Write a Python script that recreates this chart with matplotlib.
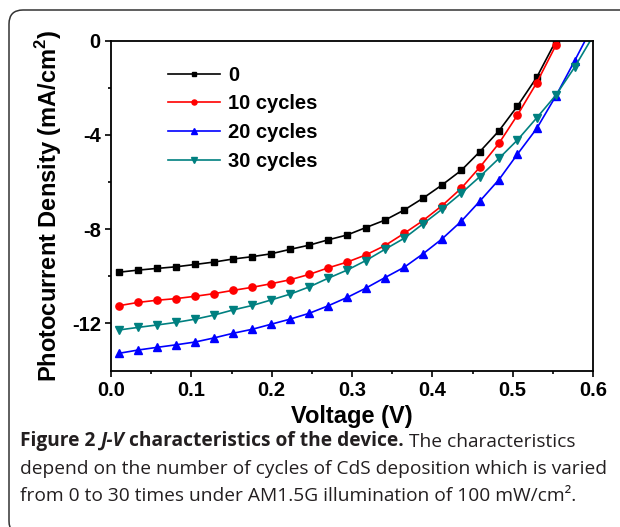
"""J-V curves of the device for different numbers of CdS deposition cycles,
redrawn as a figure panel with its caption underneath."""
import matplotlib

matplotlib.use("Agg")
import matplotlib.pyplot as plt
from matplotlib.patches import FancyBboxPatch

plt.rcParams["font.family"] = ["Liberation Sans", "DejaVu Sans"]
plt.rcParams["axes.unicode_minus"] = False
plt.rcParams["mathtext.fontset"] = "custom"
plt.rcParams["mathtext.rm"] = "Liberation Sans"
plt.rcParams["mathtext.bf"] = "Liberation Sans:bold"

# --- data ----------------------------------------------------------------
voltage = [0.010, 0.034, 0.057, 0.081, 0.105, 0.128, 0.152, 0.176, 0.199, 0.223,
           0.247, 0.270, 0.294, 0.317, 0.341, 0.365, 0.388, 0.412, 0.436, 0.459,
           0.483, 0.506, 0.530, 0.554, 0.577, 0.601]
j_0 = [-9.83, -9.74, -9.67, -9.60, -9.50, -9.40, -9.27, -9.17, -9.05, -8.86,
       -8.68, -8.46, -8.25, -7.94, -7.62, -7.19, -6.70, -6.13, -5.51, -4.72,
       -3.83, -2.78, -1.56, 0.00]
j_10 = [-11.25, -11.11, -11.02, -10.95, -10.85, -10.74, -10.60, -10.47, -10.32, -10.15,
        -9.92, -9.65, -9.40, -9.10, -8.70, -8.18, -7.65, -7.01, -6.27, -5.38,
        -4.36, -3.16, -1.79, -0.19, 1.00]
j_20 = [-13.27, -13.13, -13.02, -12.91, -12.79, -12.62, -12.42, -12.25, -12.04, -11.82,
        -11.57, -11.26, -10.90, -10.51, -10.06, -9.62, -9.06, -8.42, -7.67, -6.82,
        -5.90, -4.82, -3.73, -2.34, -0.87, 0.70]
j_30 = [-12.28, -12.17, -12.07, -11.96, -11.82, -11.65, -11.43, -11.24, -11.01, -10.76,
        -10.45, -10.09, -9.74, -9.34, -8.86, -8.39, -7.79, -7.16, -6.48, -5.78,
        -5.00, -4.22, -3.28, -2.31, -1.14, 0.24]
labels = ["0", "10 cycles", "20 cycles", "30 cycles"]
x_ticks = [0.0, 0.1, 0.2, 0.3, 0.4, 0.5, 0.6]
y_ticks = [0, -4, -8, -12]

series = [
    (j_0, "black", "s", 4.7),
    (j_10, "#ff0000", "o", 5.2),
    (j_20, "#0000ff", "^", 5.8),
    (j_30, "#008080", "v", 5.8),
]

fig = plt.figure(figsize=(6.2, 5.27), dpi=100)

# rounded frame around the panel, running off the right and bottom edges
frame = FancyBboxPatch((0.09, -0.08), 6.4, 5.25,
                       boxstyle="round,pad=0,rounding_size=0.14",
                       transform=fig.dpi_scale_trans, fill=False,
                       edgecolor="#333333", linewidth=1.1)
fig.add_artist(frame)

ax = fig.add_axes([111 / 620, 1 - 370.5 / 527, 482 / 620, 330 / 527])
for (values, color, marker, ms), label in zip(series, labels):
    ax.plot(voltage[:len(values)], values, color=color, marker=marker,
            markersize=ms, linewidth=1.2, label=label)

ax.set_xlim(0, 0.6)
ax.set_ylim(-14, 0)
ax.set_xticks(x_ticks)
ax.set_xticks([0.05, 0.15, 0.25, 0.35, 0.45, 0.55], minor=True)
ax.set_yticks(y_ticks)
ax.set_yticks([-2, -6, -10], minor=True)
ax.set_xticklabels([f"{t:.1f}" for t in x_ticks])
ax.set_yticklabels([str(t) for t in y_ticks])
for side in ("left", "bottom", "right", "top"):
    ax.spines[side].set_linewidth(1.3)
ax.tick_params(which="major", length=4.3, width=1.2, labelsize=14.5, pad=3)
ax.tick_params(which="minor", length=2.5, width=1.2)
for lab in ax.get_xticklabels() + ax.get_yticklabels():
    lab.set_fontweight("bold")

ax.set_xlabel("Voltage (V)", fontsize=17, fontweight="bold", labelpad=4)
ax.set_ylabel(r"Photocurrent Density (mA/cm$^\mathbf{2}$)", fontsize=17,
              fontweight="bold", labelpad=6)

ax.legend(loc="upper left", bbox_to_anchor=(0.118, 0.924), frameon=False,
          prop={"weight": "bold", "size": 14.5}, handlelength=2.6,
          handletextpad=0.4, labelspacing=0.48, borderpad=0, borderaxespad=0,
          numpoints=1, markerscale=0.7)

# caption, built from pieces so bold / italic / regular can share a line
cap = 13.8
ink = "#231f20"
x0 = 20 / 620
line_y = [1 - 451 / 527, 1 - 478 / 527, 1 - 505 / 527]
style = dict(fontsize=cap, color=ink, family="Open Sans", va="bottom", ha="left")

t = fig.text(x0, line_y[0], "Figure 2 ", fontweight="bold", **style)
for piece, fstyle, weight in [("J-V", "italic", "bold"),
                              (" characteristics of the device.", "normal", "bold"),
                              (" The characteristics", "normal", "normal")]:
    t = ax.annotate(piece, xy=(1, 0), xycoords=t, fontweight=weight,
                    fontstyle=fstyle, annotation_clip=False, **style)
fig.text(x0, line_y[1], "depend on the number of cycles of CdS deposition which is varied",
         **style)
fig.text(x0, line_y[2], "from 0 to 30 times under AM1.5G illumination of 100 mW/cm\u00b2.",
         **style)

fig.savefig("out.png", dpi=100)
plt.close(fig)
